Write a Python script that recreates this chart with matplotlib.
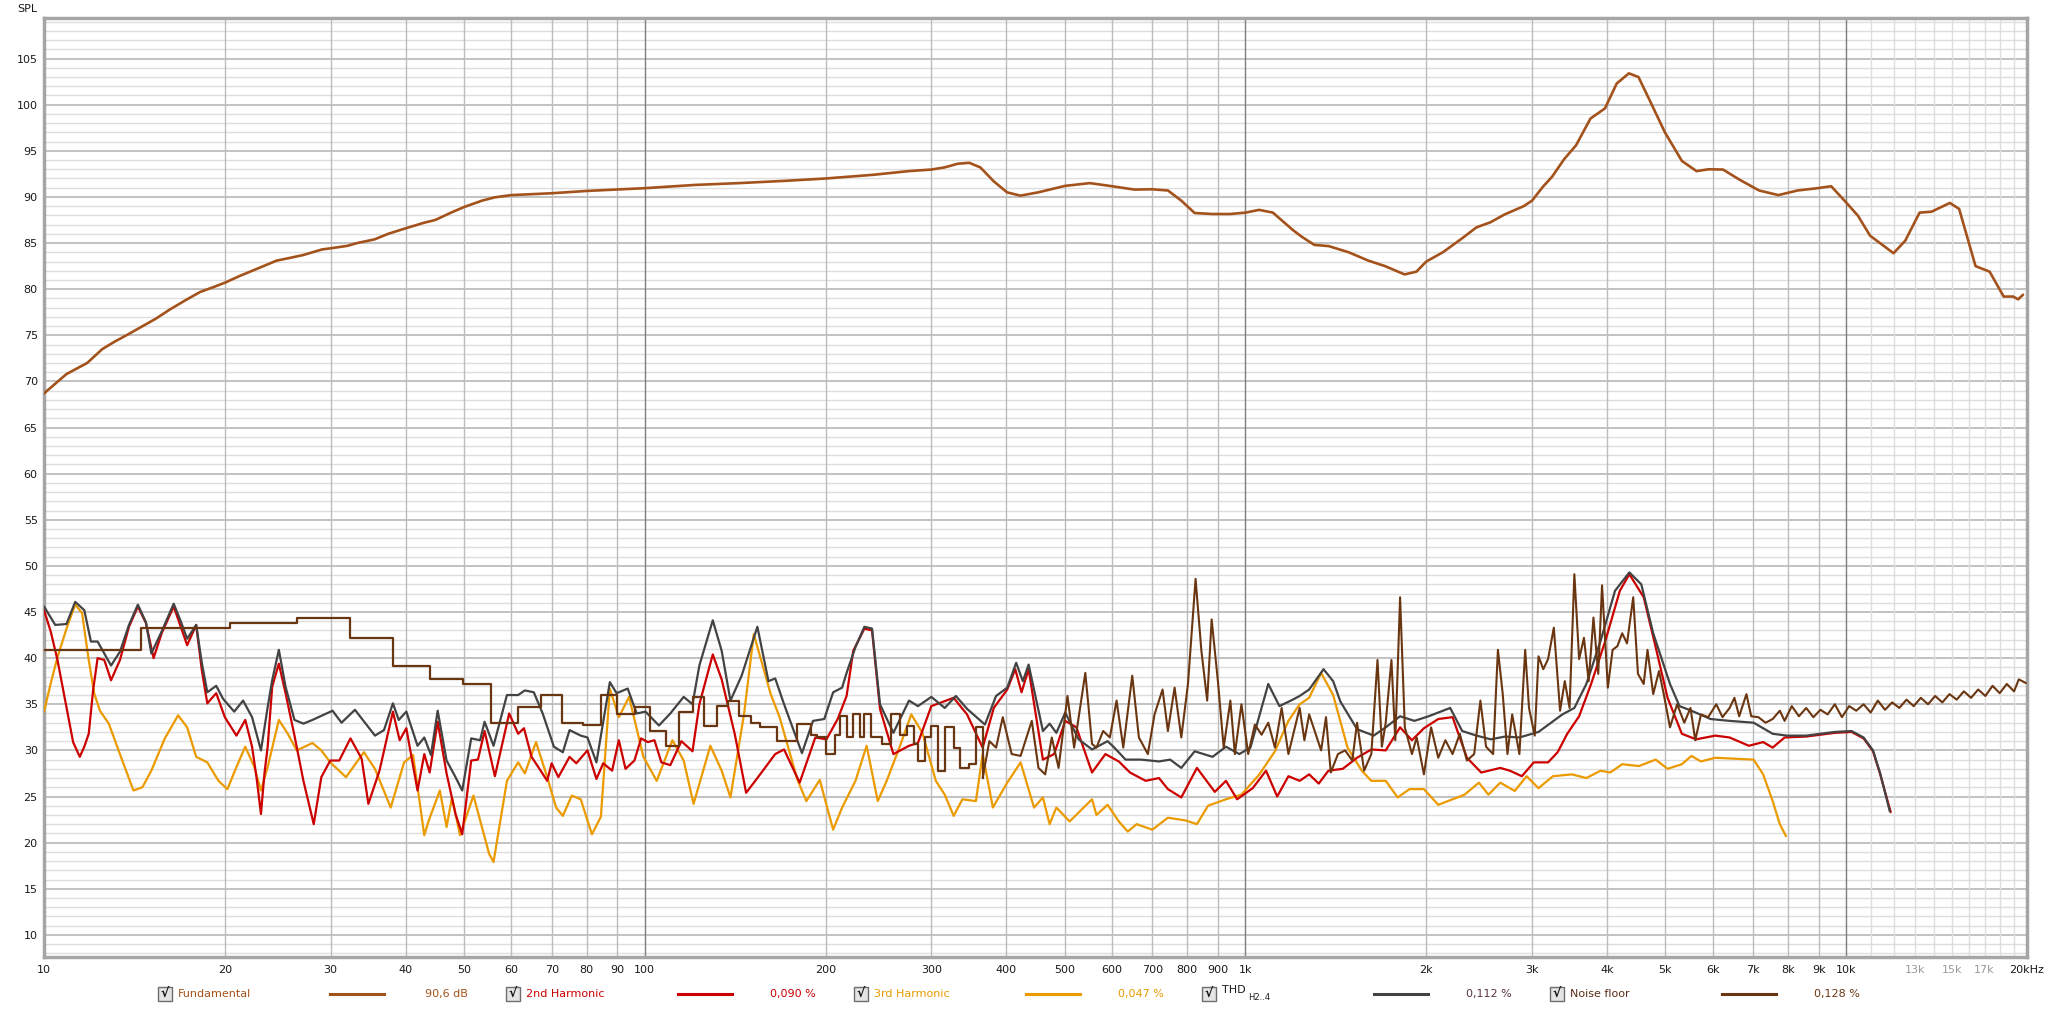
import matplotlib.pyplot as plt
from matplotlib.patches import Rectangle
from matplotlib.lines import Line2D
from matplotlib.ticker import NullLocator

# --- data (Hz, dB SPL) ---
fund_f = [10, 10.9, 11.8, 12.5, 13.1, 13.8, 14.6, 15.35, 16.2, 17.3, 18.2, 19.1, 20, 21.2, 22.8,
          24.4, 25.7, 27.0, 29.0, 30.5, 32.0, 33.2, 35.5, 37.4, 40, 42.9, 44.8, 47.6, 50, 53.6,
          56.3, 60, 70, 80, 100, 121, 143.5, 170.6, 200, 240, 275, 300, 315.6, 332, 347, 362,
          381, 401, 422, 452, 501, 551, 600, 653, 699, 743, 782, 823, 881, 943, 1000, 1054,
          1111, 1200, 1240, 1302, 1376, 1486, 1601, 1708, 1840, 1926, 2000, 2131, 2293, 2424,
          2557, 2700, 2905, 3000, 3127, 3240, 3393, 3551, 3753, 3967, 4150, 4348, 4511, 4723,
          4992, 5328, 5635, 5902, 6238, 6654, 7163, 7711, 8300, 8934, 9443, 10000, 10460,
          10960, 11990, 12540, 13250, 13870, 14880, 15420, 16420, 17330, 18290, 18970, 19330,
          19700]
fund_db = [68.7, 70.8, 72.0, 73.5, 74.3, 75.1, 76.0, 76.8, 77.8, 78.9, 79.7, 80.2, 80.7, 81.45,
           82.3, 83.1, 83.4, 83.7, 84.3, 84.5, 84.7, 85.0, 85.4, 86.0, 86.6, 87.2, 87.5, 88.3,
           88.9, 89.6, 89.96, 90.2, 90.4, 90.65, 90.95, 91.3, 91.5, 91.74, 92.0, 92.4, 92.8,
           92.97, 93.2, 93.6, 93.7, 93.2, 91.7, 90.5, 90.14, 90.5, 91.2, 91.5, 91.16, 90.8,
           90.83, 90.7, 89.6, 88.26, 88.15, 88.15, 88.3, 88.6, 88.3, 86.4, 85.7, 84.8, 84.67,
           84.0, 83.1, 82.5, 81.6, 81.9, 83.0, 84.0, 85.5, 86.7, 87.25, 88.1, 89.0, 89.6, 91.1,
           92.2, 94.1, 95.6, 98.5, 99.6, 102.3, 103.4, 103.0, 100.3, 97.0, 93.9, 92.8, 93.0,
           92.97, 91.85, 90.7, 90.2, 90.7, 90.94, 91.16, 89.4, 87.97, 85.8, 83.9, 85.25, 88.3,
           88.4, 89.35, 88.7, 82.5, 81.9, 79.2, 79.2, 78.9, 79.4]

h2_f = [10.0, 10.26, 10.53, 10.90, 11.18, 11.47, 11.67, 11.87, 12.07, 12.28, 12.60, 12.93, 13.38,
        13.85, 14.33, 14.78, 15.22, 15.70, 16.44, 16.89, 17.31, 17.92, 18.31, 18.70, 19.35,
        20.0, 20.91, 21.63, 22.20, 22.58, 22.97, 23.28, 23.57, 23.98, 24.60, 25.24, 26.12,
        27.03, 28.12, 28.95, 29.96,
        31.01, 32.37, 33.79, 34.67, 36.18, 38.09, 39.09, 40.10, 41.86, 42.96, 43.85, 45.22,
        46.79, 48.42, 49.68, 51.42, 52.77, 54.13, 56.31, 59.48, 61.56, 62.95, 64.80, 66.49,
        68.81, 69.99, 71.82, 74.97, 76.92, 80.29, 83.10, 85.28, 88.25, 90.55, 92.90, 96.14,
        98.63, 101.2, 103.8, 106.6, 110.3, 115.1, 120.1, 123.3, 129.8, 134.3, 141.3, 147.5,
        154.0, 164.9, 170.6, 181.1, 192.3, 200.7, 209.5, 216.8, 222.4, 232.1, 239.0, 246.4,
        259.4, 275.4, 285.0, 300.0, 326.8, 344.0, 365.2, 381.1, 401.3, 413.8, 423.9, 435.6,
        460.1, 480.3, 501.2, 523.1, 555.4, 584.6, 615.4, 642.4, 682.1, 717.9, 742.9, 782.0,
        830.3, 889.1, 928.0, 968.5, 1028.1, 1082, 1129.4, 1179, 1231, 1276.7, 1324.4, 1374.3,
        1451.9, 1534, 1620, 1712, 1809, 1893, 1982, 2094, 2212, 2337, 2469, 2656, 2755, 2885,
        3020, 3190, 3309, 3433, 3593, 3762, 3974, 4200, 4356, 4602, 4818, 5043, 5327, 5627,
        6056, 6397, 6886, 7275, 7545, 7898, 8579, 9062, 9573, 10207, 10690, 11084, 11394,
        11862]
h2_db = [45.2, 42.9, 39.8, 34.7, 30.9, 29.3, 30.4, 31.8, 36.5, 40.0, 39.8, 37.6, 39.8,
         43.4, 45.6, 43.8, 40.0, 42.7, 45.6, 43.4, 41.4, 43.6, 38.7, 35.1, 36.2,
         33.6, 31.6, 33.3, 30.4, 27.1, 23.1, 27.5, 30.4, 36.9, 39.4, 36.2, 31.6,
         26.7, 22.0, 27.1, 28.9,
         28.9, 31.3, 29.1,
         24.2, 27.8, 34.2, 31.1, 32.4, 25.65, 29.6, 27.6, 33.1, 27.5, 23.1, 20.9, 28.9, 29.0,
         32.1, 27.2, 34.0, 31.8, 32.4, 29.3, 28.2, 26.7, 28.6, 27.1, 29.3, 28.6, 30.0, 26.9,
         28.6, 27.8, 31.1, 28.0, 28.9, 31.3, 30.9, 31.1, 28.7, 28.4, 31.0, 29.9, 35.0, 40.4,
         37.7, 31.7, 25.4, 27.0, 29.6, 30.1, 26.5, 31.4, 31.2, 33.4, 35.9, 40.8, 43.2, 43.0,
         34.5, 29.6, 30.5, 30.8, 34.8, 35.7, 33.9, 30.3, 34.6, 36.6, 38.8, 36.3, 38.8, 29.0,
         29.6, 33.2, 32.5, 27.6, 29.6, 28.8, 27.6, 26.7, 27.0, 25.8, 24.9, 28.1, 25.5, 26.7,
         24.7, 25.9, 27.8, 25.0, 27.2, 26.7, 27.4, 26.4, 27.8, 28.0, 29.2, 30.1, 30.0, 32.5,
         31.1, 32.4, 33.4, 33.6, 29.2, 27.6, 28.1, 27.8, 27.2, 28.7, 28.7, 29.8, 31.8, 33.7,
         37.2, 41.9, 47.3, 49.1, 46.6, 41.2, 35.7, 31.8, 31.2, 31.6, 31.4, 30.5, 30.9, 30.3,
         31.4, 31.5, 31.7, 31.9, 32.0, 31.3, 29.9, 27.4, 23.3]

h3_f = [10.0, 10.26, 10.53, 10.90, 11.27, 11.57, 11.87, 12.12, 12.39, 12.82, 13.50, 14.09, 14.58,
        15.09, 15.89, 16.72, 17.31, 17.92, 18.70, 19.52, 20.20, 20.91, 21.63, 22.39, 22.97,
        23.57, 24.60, 25.46, 26.35, 27.98, 28.95, 29.96, 31.82, 34.08, 35.56, 37.77, 39.76,
        41.15, 42.96,
        43.70, 45.60, 46.79, 47.77, 49.26, 51.87, 55.07, 56.02, 58.97, 61.56, 63.16, 65.92,
        68.81, 71.21, 73.06, 75.61, 78.25, 81.68, 84.53, 87.49, 90.55, 94.18, 99.49, 104.7,
        111.2, 116.1, 120.6, 128.6, 134.3, 138.9, 146.3, 151.9, 162.1, 167.7, 179.6, 185.8,
        195.6, 205.9, 213.1, 224.3, 234.1, 244.3, 252.8, 266.1, 277.8, 289.9, 305.2, 315.8,
        326.8, 338.0, 355.9, 365.2, 379.8, 401.3, 422.4, 444.7, 460.1, 472.1, 484.4, 509.8,
        555.4, 564.9, 589.6, 615.4, 636.9, 659.0, 699.8, 742.9, 795.5, 830.3, 866.5, 928.0,
        984.8, 1054.8, 1119.7, 1179, 1231, 1276.7, 1336.5, 1399.7, 1479, 1562, 1620, 1712,
        1792, 1876, 1982, 2094, 2212, 2316, 2447, 2538, 2656, 2807, 2938, 3075, 3249, 3496,
        3694, 3902, 4048, 4238, 4519, 4818, 5043, 5327, 5526, 5732, 6056, 6516, 7014, 7275,
        7545, 7755, 7941]
h3_db = [34.2, 37.25, 40.1, 43.2, 45.8, 44.9, 39.8, 36.2, 34.3, 32.9, 28.9, 25.65, 26.0,
         27.8, 31.3, 33.8, 32.5, 29.3, 28.7, 26.7, 25.8, 28.2, 30.4, 28.2, 25.65,
         28.2, 33.3, 31.8, 30.0, 30.8, 30.0, 28.7, 27.1, 29.8, 28.0, 23.8, 28.7,
         29.5, 20.8,
         22.4, 25.65, 21.7,
         24.9, 20.8, 25.1, 18.8, 17.9, 26.7, 28.7, 27.5, 30.9, 27.1, 23.8, 22.9, 25.1, 24.7,
         20.9, 22.8, 36.7, 33.6, 35.8, 29.3, 26.7, 31.1, 28.9, 24.2, 30.5, 27.8, 24.9, 33.9,
         42.6, 36.1, 33.6, 26.8, 24.5, 26.8, 21.4, 23.8, 26.7, 30.5, 24.5, 26.7, 30.5, 33.9,
         31.9, 26.7, 25.2, 22.9, 24.7, 24.5, 29.6, 23.8, 26.5, 28.7, 23.8, 24.9, 22.0, 23.8,
         22.3, 24.7, 23.0, 24.1, 22.3, 21.2, 22.0, 21.4, 22.7, 22.4, 22.0, 24.0, 24.7, 25.2,
         27.4, 29.9, 33.2, 35.0, 35.7, 38.4, 36.0, 30.3, 27.8, 26.7, 26.7, 24.9, 25.8, 25.8,
         24.1, 24.7, 25.2, 26.5, 25.2, 26.5, 25.6, 27.2, 25.9, 27.2, 27.4, 27.0, 27.8, 27.6,
         28.5, 28.3, 29.0, 28.0, 28.5, 29.4, 28.8, 29.2, 29.1, 29.0, 27.4, 24.5, 22.0, 20.7]

thd_f = [10.0, 10.44, 10.90, 11.27, 11.67, 11.97, 12.28, 12.93, 13.38, 13.85, 14.33, 14.78, 15.09,
         15.70, 16.44, 16.89, 17.31, 17.92, 18.31, 18.70, 19.35, 19.86, 20.73, 21.45, 22.20,
         22.97, 23.57, 23.98, 24.60, 25.24, 26.12, 27.03,
         27.98, 30.22, 31.28, 32.93, 35.56, 36.81, 38.09, 38.95, 40.10, 41.86, 42.96, 44.07,
         45.22, 46.79, 48.42, 49.68, 51.42, 53.21, 54.13, 56.02, 58.97, 61.56, 63.16, 65.36,
         67.63, 70.60, 73.06, 74.97, 78.25, 80.29, 83.10, 87.49, 89.78, 93.70, 96.96, 100.3,
         105.6, 110.3, 116.1, 120.1, 123.3, 129.8, 134.3, 138.9, 145.0, 154.0, 160.7, 164.9,
         170.6, 182.7, 190.6, 199.0, 205.9, 213.1, 216.8, 224.3, 232.1, 239.0, 246.4, 259.4,
         275.4, 285.0, 300.0, 315.8, 329.6, 344.0, 368.4, 384.5, 401.3, 415.3, 426.0, 435.6,
         460.1, 472.1, 484.4, 501.2, 527.6, 555.4, 589.6, 605.0, 631.5, 670.5, 717.9, 749.3,
         782.0, 823.2, 881.5, 928.0, 976.6, 1019.3, 1091.4, 1139.1, 1199, 1231, 1276.7, 1349,
         1399.7, 1438.7, 1534, 1635, 1712, 1809, 1911, 2018, 2192, 2295, 2425, 2561, 2705,
         2858, 3075, 3370, 3528, 3694, 3902, 4123, 4356, 4560, 4773, 5090, 5279, 5526, 5946,
         6397, 7014, 7545, 7971, 8579, 9062, 9573, 10207, 10690, 11084, 11394, 11819]
thd_db = [45.6, 43.6, 43.7, 46.1, 45.2, 41.8, 41.8, 39.2, 40.7, 43.6, 45.8, 43.9, 40.5,
          42.9, 45.9, 44.0, 42.1, 43.6, 39.5, 36.3, 37.0, 35.6, 34.2, 35.4, 33.6,
          30.0, 34.7, 37.6, 40.9, 36.9, 33.3, 32.9,
          33.3, 34.3, 33.0,
          34.4, 31.6, 32.2, 35.1, 33.3, 34.2, 30.5, 31.4, 29.5, 34.3, 28.9, 27.1, 25.65, 31.3,
          31.1, 33.1, 30.5, 36.0, 36.0, 36.5, 36.3, 34.0, 30.4, 29.8, 32.2, 31.6, 31.4, 28.7,
          37.4, 36.2, 36.7, 34.0, 34.2, 32.7, 34.0, 35.8, 35.0, 39.2, 44.1, 40.8, 35.4, 38.1,
          43.4, 37.5, 37.8, 35.0, 29.7, 33.2, 33.4, 36.3, 36.8, 38.4, 41.2, 43.4, 43.2, 35.0,
          31.9, 35.4, 34.8, 35.8, 34.6, 35.9, 34.5, 32.8, 35.9, 36.8, 39.5, 37.5, 39.3, 32.1,
          32.9, 31.9, 34.1, 31.2, 30.1, 31.0, 30.3, 29.0, 29.0, 28.8, 29.0, 28.1, 29.9, 29.3,
          30.4, 29.6, 30.3, 37.2, 34.8, 35.5, 35.9, 36.6, 38.8, 37.5, 35.3, 32.3, 31.6, 32.5,
          33.7, 33.2, 33.7, 34.6, 32.1, 31.6, 31.2, 31.5, 31.4, 32.0, 33.9, 34.6, 37.2, 41.9,
          47.3, 49.3, 48.0, 42.7, 37.2, 34.8, 34.3, 33.4, 33.2, 33.0, 31.8, 31.6, 31.6, 31.8,
          32.0, 32.1, 31.4, 30.0, 27.5, 23.4]

# noise floor: banded (stepped) part at low frequencies ...
noise_step_f = [10, 14.53, 20.37, 26.35, 32.3, 38.1, 43.9, 49.9, 55.5, 61.6, 67.1, 72.8, 78.9,
                84.5, 89.8, 96.5, 102.1, 108.4, 114.1, 120.1, 125.4, 132.0, 137.8, 143.8, 150.1,
                155.3, 166.3, 179.6, 189.0, 193.9, 200.7, 207.7, 211.3, 216.8, 222.4, 228.2,
                232.1, 238.2, 248.5, 257.2, 266.1, 273.1, 280.2, 285.0, 292.4, 300.0, 307.9,
                315.8, 326.8, 335.3, 347.0, 355.9, 365.2]
noise_step_db = [40.9, 43.3, 43.8, 44.3, 42.2, 39.1, 37.7, 37.2, 33.0, 34.7, 36.0, 33.0, 32.8,
                 36.0, 33.9, 34.7, 32.1, 30.5, 34.2, 35.8, 32.6, 34.8, 35.3, 33.7, 33.0, 32.5,
                 31.0, 32.9, 31.7, 31.4, 29.6, 31.7, 33.7, 31.4, 33.9, 31.4, 33.9, 31.4, 30.7,
                 33.9, 31.7, 32.6, 30.7, 28.8, 31.4, 32.6, 27.8, 32.5, 30.3, 28.1, 28.5, 32.5,
                 27.0]
# ... and the finely resolved part above
noise_f = [365.2, 374.7, 384.5, 394.5, 408.2, 422.4, 440.9, 452.3, 464.1, 476.0, 488.6, 505.5,
           518.6, 541.3, 555.4, 564.9, 579.6, 594.7, 610.2, 626.1, 648, 664.7, 687.9, 705.8,
           727.8, 742.9, 762.2, 782.0, 802.3, 826.0, 844.6, 863.6, 878.5, 899.8, 920.0, 943.8,
           960.2, 984.8, 1010.6, 1036.9, 1063.8, 1091.4, 1119.7, 1148.9, 1179, 1231, 1253.5,
           1276.7, 1336.5, 1361.8, 1386.9, 1425.6, 1465.3, 1506, 1534, 1576, 1620, 1659, 1687,
           1712, 1750, 1776, 1809, 1842, 1893, 1928, 1982, 2037, 2094, 2152, 2212, 2274, 2337,
           2403, 2461, 2515, 2584, 2632, 2681, 2730, 2780, 2858, 2922, 2965, 3031, 3075, 3132,
           3190, 3261, 3340, 3401, 3464, 3528, 3593, 3660, 3727, 3796, 3866, 3923, 4011, 4085,
           4161, 4238, 4317, 4421, 4502, 4602, 4670, 4773, 4880, 4970, 5090, 5231, 5377, 5506,
           5608, 5732, 5892, 6078, 6225, 6397, 6516, 6636, 6823, 6949, 7143, 7342, 7545, 7755,
           7898, 8118, 8344, 8579, 8818, 9062, 9314, 9573, 9840, 10114, 10395, 10690, 10985,
           11290, 11604, 11927, 12260, 12601, 12953, 13314, 13685, 14066, 14458, 14859, 15276,
           15701, 16139, 16589, 17051, 17526, 18014, 18510, 19030, 19382, 19918]
noise_db = [27.0, 31.0, 30.3, 33.6, 29.6, 29.4, 33.2, 28.1, 27.4, 31.4, 28.1, 35.9, 30.3, 38.4,
            30.7, 30.3, 32.1, 31.4, 35.4, 30.3, 38.1, 31.4, 29.6, 33.9, 36.6, 32.1, 36.8, 31.4,
            37.2, 48.6, 40.8, 35.4, 44.2, 37.5, 30.3, 35.4, 29.6, 35.0, 29.6, 32.8, 31.7, 33.0,
            30.3, 34.6, 29.6, 34.6, 31.1, 33.9, 30.0, 33.6, 27.6, 29.6, 30.0, 28.9, 33.0, 27.8,
            29.6, 39.8, 30.4, 33.0, 39.8, 31.1, 46.6, 32.5, 29.6, 31.4, 27.4, 32.5, 29.2, 31.1,
            29.6, 31.8, 28.9, 29.6, 35.4, 30.4, 29.6, 40.9, 36.1, 29.6, 33.9, 29.6, 40.9, 34.6,
            31.6, 40.2, 38.8, 39.9, 43.3, 34.3, 37.5, 34.6, 49.1, 39.9, 42.2, 37.5, 44.4, 38.3,
            47.9, 36.8, 40.9, 41.3, 42.7, 41.6, 46.6, 38.3, 37.2, 40.9, 36.1, 38.6, 36.1, 32.5,
            35.0, 33.0, 34.6, 31.1, 33.9, 33.6, 35.0, 33.6, 34.6, 35.7, 33.7, 36.1, 33.7, 33.6,
            33.0, 33.4, 34.3, 33.2, 34.8, 33.7, 34.6, 33.6, 34.4, 33.9, 35.0, 33.6, 34.8, 34.3,
            35.0, 34.1, 35.4, 34.4, 35.2, 34.6, 35.5, 34.8, 35.7, 35.0, 35.9, 35.2, 36.1, 35.5,
            36.4, 35.7, 36.6, 35.9, 37.0, 36.2, 37.2, 36.4, 37.7, 37.3]

# legend entries
legend_names = ["Fundamental", "2nd Harmonic", "3rd Harmonic", "THD", "Noise floor"]
legend_values = ["90,6 dB", "0,090 %", "0,047 %", "0,112 %", "0,128 %"]

# x axis ticks
tick_f = [10, 20, 30, 40, 50, 60, 70, 80, 90, 100, 200, 300, 400, 500, 600, 700, 800, 900,
          1000, 2000, 3000, 4000, 5000, 6000, 7000, 8000, 9000, 10000, 13000, 15000, 17000, 20000]
tick_lbl = ["10", "20", "30", "40", "50", "60", "70", "80", "90", "100", "200", "300", "400",
            "500", "600", "700", "800", "900", "1k", "2k", "3k", "4k", "5k", "6k", "7k", "8k",
            "9k", "10k", "13k", "15k", "17k", "20kHz"]
hf_grid = [11000, 12000, 13000, 14000, 15000, 16000, 17000, 18000, 19000]

# colours
c_fund = "#a4521c"
c_h2 = "#cc0000"
c_h3 = "#eb9a00"
c_thd = "#434343"
c_noise = "#6a3611"

W, H = 2048, 1009
plt.rcParams["font.family"] = ["DejaVu Sans"]
fig = plt.figure(figsize=(W / 100, H / 100), dpi=100)
ax = fig.add_axes([44 / W, 1 - 957 / H, (2027 - 44) / W, (957 - 18) / H])
ax.set_xscale("log")
ax.set_xlim(10, 20000)
ax.set_ylim(7.6, 109.4)

# grid
for v in range(8, 110):
    if v % 5 == 0:
        ax.axhline(v, color="#b8b8b8", lw=1.2, zorder=0)
    else:
        ax.axhline(v, color="#dedede", lw=1.0, zorder=0)
for f in tick_f[:-4]:
    col = "#7c7c7c" if f in (100, 1000, 10000) else "#bcbcbc"
    ax.axvline(f, color=col, lw=1.0, zorder=0)
for f in hf_grid:
    ax.axvline(f, color="#dedede", lw=1.0, zorder=0)

# curves
kw = dict(solid_joinstyle="round", solid_capstyle="round")
ax.plot(fund_f, fund_db, color=c_fund, lw=1.9, zorder=3, **kw)
ax.plot(h3_f, h3_db, color=c_h3, lw=1.6, zorder=3, **kw)
ax.plot(h2_f, h2_db, color=c_h2, lw=1.6, zorder=4, **kw)
ax.plot(thd_f, thd_db, color=c_thd, lw=1.6, zorder=5, **kw)
ax.plot(noise_step_f, noise_step_db, color=c_noise, lw=1.6, drawstyle="steps-post", zorder=6)
ax.plot(noise_f, noise_db, color=c_noise, lw=1.5, zorder=6, **kw)

# axes look
ax.set_xticks(tick_f)
ax.set_xticklabels(tick_lbl)
ax.xaxis.set_minor_locator(NullLocator())
ax.set_yticks(range(10, 110, 5))
ax.yaxis.set_minor_locator(NullLocator())
ax.tick_params(length=0, labelsize=8, colors="#1a1a1a")
ax.tick_params(axis="y", pad=4.5)
ax.tick_params(axis="x", pad=6)
for lbl in ax.get_xticklabels():
    if lbl.get_text() in ("13k", "15k", "17k"):
        lbl.set_color("#9a9a9a")
for s in ax.spines.values():
    s.set_color("#a6a6a6")
    s.set_linewidth(2.5)

fig.text(17 / W, 1 - 9 / H, "SPL", fontsize=8, ha="left", va="center", color="#1a1a1a")

# legend row under the plot
line_cols = [c_fund, c_h2, c_h3, c_thd, c_noise]
name_cols = ["#a4521c", "#cc0000", "#e69a00", "#1a1a1a", "#5a2e18"]
val_cols = ["#a4521c", "#cc0000", "#e69a00", "#5a3340", "#6a3611"]
yc = 994
for i, name in enumerate(legend_names):
    x0 = 158 + 348 * i
    fig.patches.append(Rectangle((x0 / W, 1 - (yc + 7) / H), 14 / W, 14 / H,
                                 transform=fig.transFigure, facecolor="#e4e4e4",
                                 edgecolor="#6e6e6e", lw=1.0))
    fig.text((x0 + 7) / W, 1 - yc / H, "\u221a", fontsize=9, fontweight="bold",
             ha="center", va="center", color="#111111")
    if name == "THD":
        fig.text((x0 + 20) / W, 1 - (yc - 4) / H, "THD", fontsize=8, ha="left",
                 va="center", color=name_cols[i])
        fig.text((x0 + 46) / W, 1 - (yc + 4) / H, "H2..4", fontsize=6, ha="left",
                 va="center", color=name_cols[i])
    else:
        fig.text((x0 + 20) / W, 1 - yc / H, name, fontsize=8, ha="left", va="center",
                 color=name_cols[i])
    fig.lines.append(Line2D([(x0 + 172) / W, (x0 + 226) / W], [1 - yc / H, 1 - yc / H],
                            transform=fig.transFigure, color=line_cols[i], lw=2.2))
    fig.text((x0 + 310) / W, 1 - yc / H, legend_values[i], fontsize=8, ha="right",
             va="center", color=val_cols[i])

fig.savefig("out.png", dpi=100)
